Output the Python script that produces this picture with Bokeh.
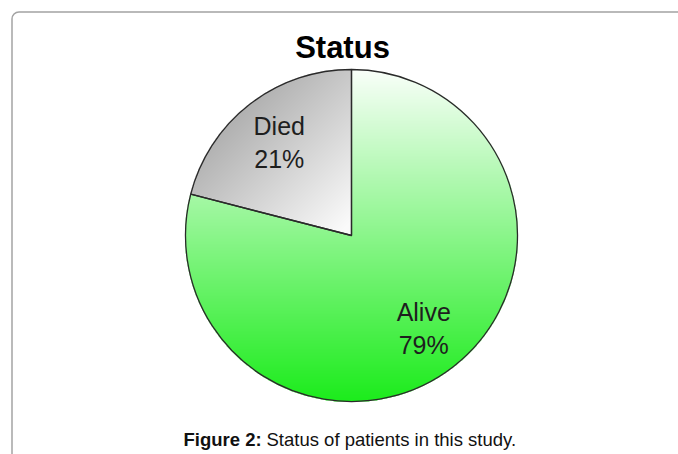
import numpy as np
from bokeh.plotting import figure
from bokeh.models import Range1d, ColumnDataSource
from bokeh.core.properties import value
from bokeh.embed import file_html
from bokeh.resources import INLINE

# ---- data ----
title_text = "Status"
categories = ["Died", "Alive"]
percents = [21, 79]
caption_bold = "Figure 2:"
caption_text = "Status of patients in this study."

# ---- geometry / style ----
FONT = "Liberation Sans"
base_colors = ["#d0d0d0", "#8ef58e"]
cx, cy, R = 351.0, 219.0, 166.0
start_deg = 90.0

fracs = np.array(percents, dtype=float) / sum(percents)
cum = np.concatenate([[0.0], np.cumsum(fracs)])
starts = start_deg + 360.0 * cum[:-1]
ends = start_deg + 360.0 * cum[1:]
mids = (starts + ends) / 2.0

p = figure(width=678, height=454, output_backend="svg", toolbar_location=None,
           x_range=Range1d(0, 678), y_range=Range1d(0, 454), min_border=0,
           background_fill_color="white", border_fill_color="white")
p.axis.visible = False
p.grid.visible = False
p.outline_line_color = None

# outer rounded box
p.quad(left=11.5, right=720, top=442.5, bottom=-60, fill_color=None,
       line_color="#a3a3a3", line_width=1.5, border_radius=7)

# gradient fill image masked to the pie
H = W = int(2 * R + 4)
x0, y0 = cx - R - 2, cy - R - 2
xs = x0 + np.arange(W) + 0.5
ys = y0 + np.arange(H) + 0.5
X, Y = np.meshgrid(xs, ys)
dx, dy = X - cx, Y - cy
dist = np.hypot(dx, dy)
ang = np.degrees(np.arctan2(dy, dx)) % 360.0
inside = dist <= R + 0.5
died_end = ends[0] % 360.0
is_died = inside & (ang >= starts[0] % 360.0) & (ang < died_end)
is_alive = inside & ~is_died

img = np.zeros((H, W), dtype=np.uint32)
view = img.view(dtype=np.uint8).reshape((H, W, 4))

# alive: vertical gradient, near white at top to green at bottom
t = np.clip(((cy + R) - Y) / (2 * R), 0, 1)
top_c = np.array([250, 255, 250], dtype=float)
bot_c = np.array([28, 236, 28], dtype=float)
for k in range(3):
    ch = top_c[k] + (bot_c[k] - top_c[k]) * t
    view[..., k] = np.where(is_alive, ch, view[..., k]).astype(np.uint8)

# died: diagonal gradient, darker grey top-left to near white bottom-right
py = 454 - Y
s = np.clip(((X + py) - 300.0) / 270.0, 0, 1)
g = 160 + (250 - 160) * s
for k in range(3):
    view[..., k] = np.where(is_died, g, view[..., k]).astype(np.uint8)
view[..., 3] = np.where(inside, 255, 0).astype(np.uint8)

src = ColumnDataSource(dict(cat=categories, pct=percents, color=base_colors,
                            start=np.radians(starts), end=np.radians(ends)))
p.wedge(x=cx, y=cy, radius=R, radius_units="screen", start_angle="start",
        end_angle="end", direction="anticlock", source=src,
        fill_color="color", line_color=None)
p.image_rgba(image=[img], x=x0, y=y0, dw=W, dh=H)
p.wedge(x=cx, y=cy, radius=R, radius_units="screen", start_angle="start",
        end_angle="end", direction="anticlock", source=src,
        fill_color=None, line_color="#2a2a2a", line_width=1.3)

# slice labels
lr = 0.71 * R
lab_x = cx + lr * np.cos(np.radians(mids))
lab_y = cy + lr * np.sin(np.radians(mids))
lab_text = [f"{c}\n{v}%" for c, v in zip(categories, percents)]
p.text(x=lab_x, y=lab_y, text=lab_text, text_align="center",
       text_baseline="middle", text_font=value(FONT), text_font_size="25px",
       text_color="#1e1e1e", text_line_height=1.2)

# title
p.text(x=[342], y=[407], text=[title_text], text_align="center",
       text_baseline="middle", text_font=value(FONT), text_font_size="31px",
       text_font_style="bold", text_color="#000000")

# caption
p.text(x=[183], y=[15], text=[caption_bold], text_align="left",
       text_baseline="alphabetic", text_font=value(FONT), text_font_size="18.5px",
       text_font_style="bold", text_color="#111111")
p.text(x=[266], y=[15], text=[caption_text], text_align="left",
       text_baseline="alphabetic", text_font=value(FONT), text_font_size="18.5px",
       text_color="#111111")

open("out.html", "w").write(file_html(p, INLINE))
